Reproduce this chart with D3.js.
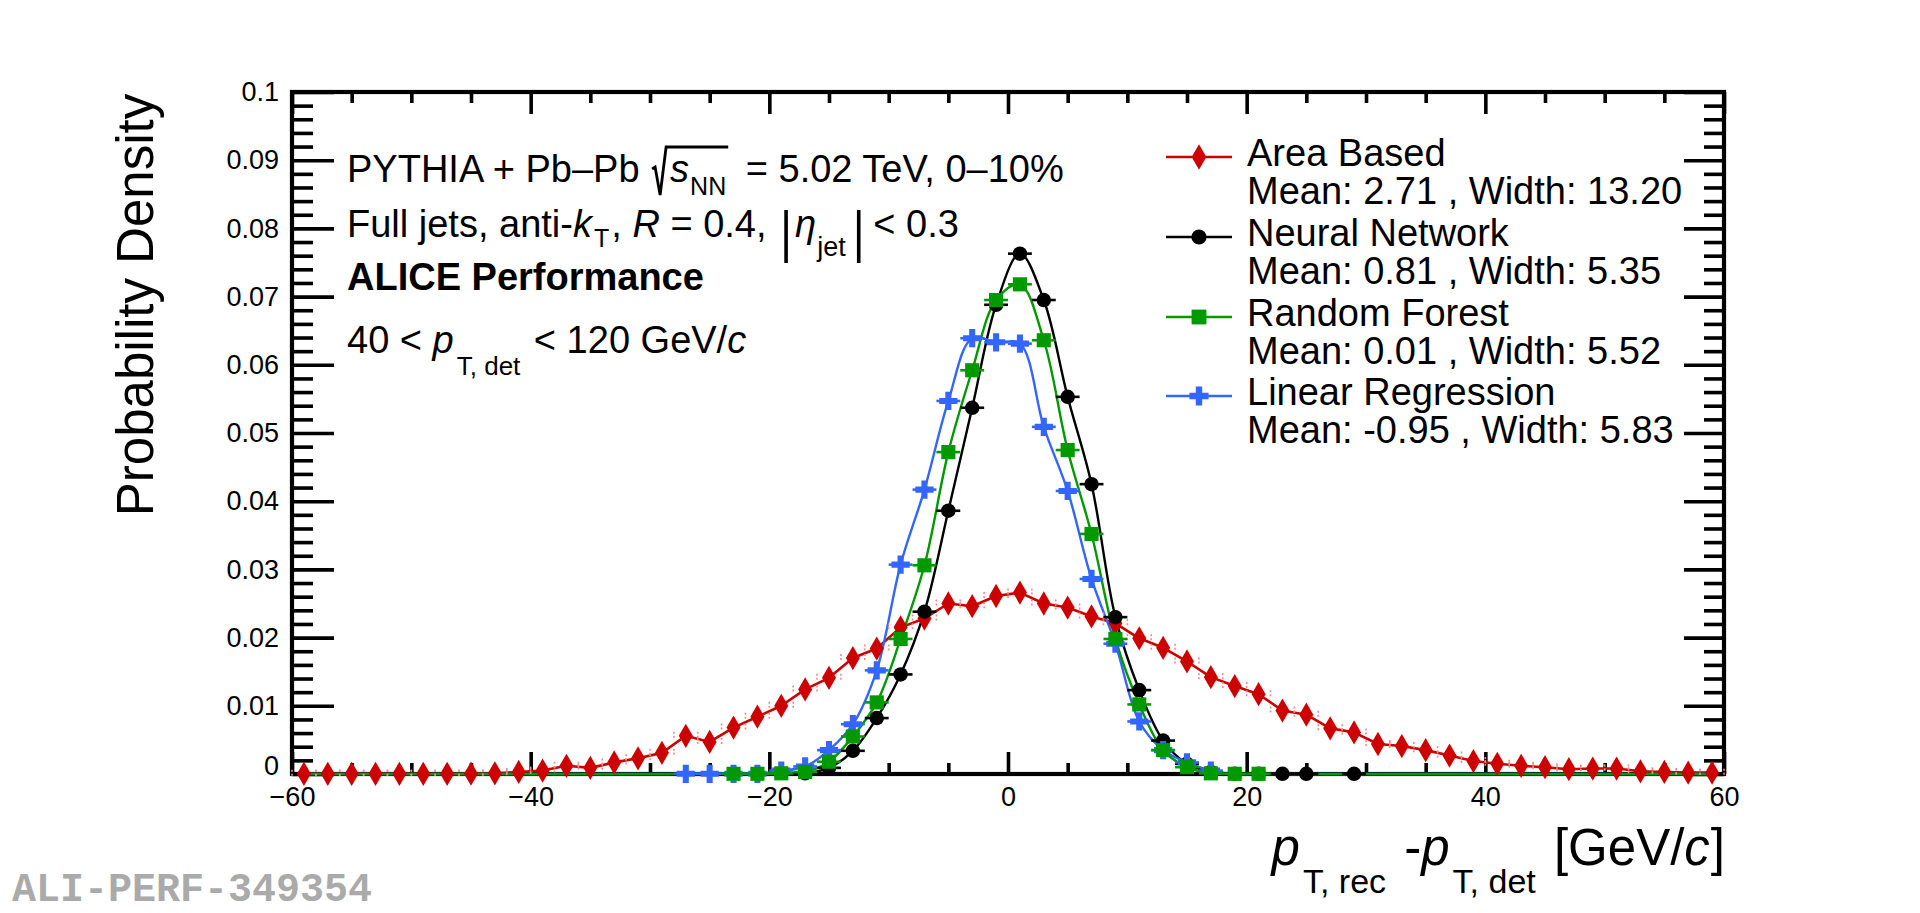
<!DOCTYPE html>
<html><head><meta charset="utf-8">
<script src="https://cdn.jsdelivr.net/npm/d3@7"></script>
<style>
body{margin:0;background:#fff;}
svg{display:block;background:#fff;}
text{font-family:"Liberation Sans",Arial,Helvetica,sans-serif;white-space:pre;fill:#000;}
</style>
</head><body>
<svg id="c" width="1920" height="913"></svg>
<script>
// ---------------- data ----------------
const binCenters = [-59,-57,-55,-53,-51,-49,-47,-45,-43,-41,-39,-37,-35,-33,-31,-29,-27,-25,-23,-21,
  -19,-17,-15,-13,-11,-9,-7,-5,-3,-1,1,3,5,7,9,11,13,15,17,19,
  21,23,25,27,29,31,33,35,37,39,41,43,45,47,49,51,53,55,57,59];

const areaBased = [0.00003,0.00003,0.00003,0.00003,0.00003,0.00003,0.00003,0.00005,0.0001,0.0003,
  0.0005,0.0012,0.0009,0.0017,0.0023,0.0031,0.0056,0.0047,0.0068,0.0084,
  0.0100,0.0124,0.0141,0.0170,0.0184,0.0215,0.0228,0.0250,0.0246,0.0261,
  0.0266,0.0250,0.0244,0.0231,0.0221,0.0199,0.0185,0.0165,0.0142,0.0129,
  0.0117,0.0093,0.0087,0.0067,0.0061,0.0044,0.0041,0.0035,0.0027,0.0019,
  0.0015,0.0012,0.0010,0.0007,0.0008,0.0008,0.0004,0.0003,0.0002,0.0002];

const neuralNetwork = [0,0,0,0,0,0,0,0,0,0,
  0,0,0,0,0,0,0,0,0,0,
  0,0.0001,0.0009,0.0034,0.0082,0.0146,0.0238,0.0386,0.0537,0.0688,
  0.0763,0.0695,0.0553,0.0425,0.0230,0.0123,0.0049,0.0015,0.0003,0.00005,
  0.00005,0.00003,0.00003,0,0.00003,0,0,0,0,0,
  0,0,0,0,0,0,0,0,0,0];

const randomForest = [0,0,0,0,0,0,0,0,0,0,
  0,0,0,0,0,0,0,0,0.00003,0.00003,
  0.0001,0.0003,0.0018,0.0055,0.0105,0.0198,0.0306,0.0472,0.0592,0.0695,
  0.0718,0.0636,0.0475,0.0352,0.0198,0.0102,0.0035,0.0010,0.0001,0.00003,
  0.00003,0,0,0,0,0,0,0,0,0,
  0,0,0,0,0,0,0,0,0,0];

const linearRegression = [0,0,0,0,0,0,0,0,0,0,
  0,0,0,0,0,0,0.00003,0.00003,0.00003,0.00003,
  0.0005,0.0011,0.0035,0.0073,0.0152,0.0307,0.0417,0.0547,0.0639,0.0633,
  0.0631,0.0509,0.0415,0.0286,0.0191,0.0077,0.0035,0.0017,0.0005,0,
  0,0,0,0,0,0,0,0,0,0,
  0,0,0,0,0,0,0,0,0,0];

const xTicks = [-60,-40,-20,0,20,40,60];
const yTicks = [0,0.01,0.02,0.03,0.04,0.05,0.06,0.07,0.08,0.09,0.1];
const yTickLabels = ["0","0.01","0.02","0.03","0.04","0.05","0.06","0.07","0.08","0.09","0.1"];
const seriesNames = ["Area Based","Neural Network","Random Forest","Linear Regression"];
const seriesStats = ["Mean: 2.71 , Width: 13.20","Mean: 0.81 , Width: 5.35","Mean: 0.01 , Width: 5.52","Mean: -0.95 , Width: 5.83"];
const binHalfWidth = 1;

// ---------------- layout ----------------
const svg = d3.select("#c");
const X0 = 292, X1 = 1724, Y0 = 774, Y1 = 92;
const x = d3.scaleLinear().domain([-60,60]).range([X0,X1]);
const y = d3.scaleLinear().domain([0,0.1]).range([Y0,Y1]);

const styles = [
  {color:"#cc0000", symbol:d3.symbolDiamond, size:170, curve:d3.curveLinear, width:2.6},
  {color:"#000000", symbol:d3.symbolCircle, size:165, curve:d3.curveCatmullRom, width:2.4},
  {color:"#009900", symbol:d3.symbolSquare, size:200, curve:d3.curveCatmullRom, width:2.4},
  {color:"#3366ff", symbol:d3.symbolCross, size:185, curve:d3.curveCatmullRom, width:2.4}
];
const seriesData = [areaBased, neuralNetwork, randomForest, linearRegression];

// ---------------- axes ----------------
function styleAxis(g, keepLabels){
  g.select(".domain").remove();
  g.selectAll(".tick line").attr("stroke","#000").attr("stroke-width",3.6);
  if (!keepLabels) { g.selectAll(".tick text").remove(); return; }
  g.selectAll(".tick text").style("font-size","27px").style("font-family",'"Liberation Sans",Arial,sans-serif').attr("fill","#000");
}
const xMinor = d3.range(-60,60.01,5).filter(v => xTicks.indexOf(v) < 0);
const yMinor = d3.range(0,0.1001,0.002).filter(v => yTicks.every(t => Math.abs(t-v) > 1e-6));

// bottom
svg.append("g").attr("transform",`translate(0,${Y0})`)
  .call(d3.axisBottom(x).tickValues(xTicks).tickSize(-22).tickPadding(13)).call(g=>styleAxis(g,true));
svg.append("g").attr("transform",`translate(0,${Y0})`)
  .call(d3.axisBottom(x).tickValues(xMinor).tickSize(-11)).call(g=>styleAxis(g,false));
// top
svg.append("g").attr("transform",`translate(0,${Y1})`)
  .call(d3.axisTop(x).tickValues(xTicks).tickSize(-22)).call(g=>styleAxis(g,false));
svg.append("g").attr("transform",`translate(0,${Y1})`)
  .call(d3.axisTop(x).tickValues(xMinor).tickSize(-11)).call(g=>styleAxis(g,false));
// left
const yAxisG = svg.append("g").attr("transform",`translate(${X0},0)`)
  .call(d3.axisLeft(y).tickValues(yTicks).tickSize(-42).tickPadding(13).tickFormat((d,i)=>yTickLabels[i])).call(g=>styleAxis(g,true));
// keep the "0" label clear of the "−60" label below it
yAxisG.selectAll(".tick text").filter(d => d === 0).attr("y", -8);
svg.append("g").attr("transform",`translate(${X0},0)`)
  .call(d3.axisLeft(y).tickValues(yMinor).tickSize(-21)).call(g=>styleAxis(g,false));
// right
svg.append("g").attr("transform",`translate(${X1},0)`)
  .call(d3.axisRight(y).tickValues(yTicks).tickSize(-40)).call(g=>styleAxis(g,false));
svg.append("g").attr("transform",`translate(${X1},0)`)
  .call(d3.axisRight(y).tickValues(yMinor).tickSize(-20)).call(g=>styleAxis(g,false));

// frame
svg.append("rect").attr("x",X0).attr("y",Y1).attr("width",X1-X0).attr("height",Y0-Y1)
  .attr("fill","none").attr("stroke","#000").attr("stroke-width",4.2);

// ---------------- data drawing ----------------
const drawOrder = [0,1,3,2];
const lineGen = d3.line().x(d=>x(d[0])).y(d=>y(d[1]));
drawOrder.forEach(si => {
  const pts = binCenters.map((c,i)=>[c, seriesData[si][i]]);
  svg.append("path").datum(pts)
    .attr("d", lineGen.curve(styles[si].curve))
    .attr("fill","none").attr("stroke",styles[si].color).attr("stroke-width",styles[si].width)
    .attr("stroke-linejoin","round");
});
drawOrder.forEach(si => {
  const st = styles[si];
  const pts = binCenters.map((c,i)=>[c, seriesData[si][i]]).filter(d => d[1] > 0);
  const g = svg.append("g");
  if (si === 0) {
    g.selectAll("line.eL").data(pts).enter().append("line")
      .attr("x1",d=>x(d[0]-binHalfWidth)).attr("x2",d=>x(d[0]-binHalfWidth))
      .attr("y1",d=>y(d[1])-4).attr("y2",d=>y(d[1])+4)
      .attr("stroke","#f08a8a").attr("stroke-width",1.6).attr("stroke-dasharray","2,2");
    g.selectAll("line.eR").data(pts).enter().append("line")
      .attr("x1",d=>x(d[0]+binHalfWidth)).attr("x2",d=>x(d[0]+binHalfWidth))
      .attr("y1",d=>y(d[1])-4).attr("y2",d=>y(d[1])+4)
      .attr("stroke","#f08a8a").attr("stroke-width",1.6).attr("stroke-dasharray","2,2");
  } else {
    g.selectAll("line.eh").data(pts).enter().append("line")
      .attr("x1",d=>x(d[0]-binHalfWidth)).attr("x2",d=>x(d[0]+binHalfWidth))
      .attr("y1",d=>y(d[1])).attr("y2",d=>y(d[1]))
      .attr("stroke",st.color).attr("stroke-width",2.6);
  }
  g.selectAll("path.m").data(pts).enter().append("path")
    .attr("transform",d=>`translate(${x(d[0])},${y(d[1])})`)
    .attr("d", d3.symbol().type(st.symbol).size(st.size)())
    .attr("fill",st.color);
});

// ---------------- legend ----------------
const legY = [157,237,317,396];
seriesNames.forEach((name,i) => {
  const st = styles[i];
  const g = svg.append("g");
  g.append("line").attr("x1",1166).attr("x2",1232).attr("y1",legY[i]).attr("y2",legY[i])
    .attr("stroke",st.color).attr("stroke-width",2.6);
  g.append("path").attr("transform",`translate(1199,${legY[i]})`)
    .attr("d", d3.symbol().type(st.symbol).size(st.size*1.1)()).attr("fill",st.color);
  g.append("text").attr("x",1247).attr("y",legY[i]+9).style("font-size","38px").text(name);
  g.append("text").attr("x",1247).attr("y",legY[i]+47).style("font-size","38px").text(seriesStats[i]);
});

// ---------------- rich text helper ----------------
function rich(x0, base, parts, anchor){
  const g = svg.append("g");
  let cx = x0;
  parts.forEach(p => {
    cx += (p.gap || 0);
    if (p.bar) {
      p.x0 = cx;
      g.append("line").attr("x1",cx).attr("x2",cx).attr("y1",base+p.y1).attr("y2",base+p.y2)
        .attr("stroke","#000").attr("stroke-width",3.6);
      cx += (p.after || 0);
      return;
    }
    if (p.radical) { p.x0 = cx; cx += p.w; return; }
    const t = g.append("text").attr("x",cx).attr("y",base+(p.dy||0)).style("font-size",p.size+"px").text(p.t);
    if (p.italic) t.style("font-style","italic");
    if (p.bold) t.style("font-weight","bold");
    p.x0 = cx;
    cx += t.node().getComputedTextLength();
    p.x1 = cx;
  });
  if (anchor === "end") g.attr("transform",`translate(${x0-cx},0)`);
  return {g, parts, end:cx};
}

// line 1 with radical
const l1 = rich(347, 182, [
  {t:"PYTHIA + Pb\u2013Pb ", size:38},
  {radical:true, w:19, gap:1},
  {t:"s", size:38, italic:true},
  {t:"NN", size:25, dy:13, gap:1},
  {t:" = 5.02 TeV, 0\u201310%", size:38, gap:9}
]);
{
  const s = l1.parts[1].x0 + 1, b = 182, e = l1.parts[3].x1 + 2;
  l1.g.append("path")
    .attr("d",`M${s},${b-13} L${s+3},${b-15} L${s+8},${b+13} L${s+14},${b-35} L${e},${b-35}`)
    .attr("fill","none").attr("stroke","#000").attr("stroke-width",2.8).attr("stroke-linejoin","miter");
}
// line 2
rich(347, 237, [
  {t:"Full jets, anti-", size:38},
  {t:"k", size:38, italic:true},
  {t:"T", size:25, dy:10, gap:2},
  {t:", ", size:38, gap:2},
  {t:"R", size:38, italic:true},
  {t:" = 0.4, ", size:38},
  {bar:true, gap:9, y1:-27, y2:26, after:9},
  {t:"\u03b7", size:38, italic:true},
  {t:"jet", size:27, dy:19, gap:1},
  {bar:true, gap:13, y1:-27, y2:26, after:4},
  {t:" < 0.3", size:38}
]);
// line 3
rich(347, 290, [{t:"ALICE Performance", size:38, bold:true}]);
// line 4
rich(347, 353, [
  {t:"40 < ", size:38},
  {t:"p", size:38, italic:true},
  {t:"T, det", size:26, dy:22, gap:3},
  {t:" < 120 GeV/", size:38, gap:3},
  {t:"c", size:38, italic:true}
]);

// x axis title (right aligned)
rich(1725, 865, [
  {t:"p", size:51, italic:true},
  {t:"T, rec", size:34, dy:28, gap:3},
  {t:" -", size:51, gap:4},
  {t:"p", size:51, italic:true},
  {t:"T, det", size:34, dy:28, gap:3},
  {t:" [GeV/", size:51, gap:4},
  {t:"c", size:51, italic:true},
  {t:"]", size:51, gap:1}
], "end");

// y axis title
svg.append("text").attr("transform","translate(153,305) rotate(-90)")
  .attr("text-anchor","middle").style("font-size","51px").text("Probability Density");

// watermark
svg.append("text").attr("x",12).attr("y",901)
  .style("font-family",'"Liberation Mono","Courier New",monospace').style("font-weight","bold")
  .style("font-size","40px").style("fill","#aaaaaa").text("ALI-PERF-349354");
</script>
</body></html>
